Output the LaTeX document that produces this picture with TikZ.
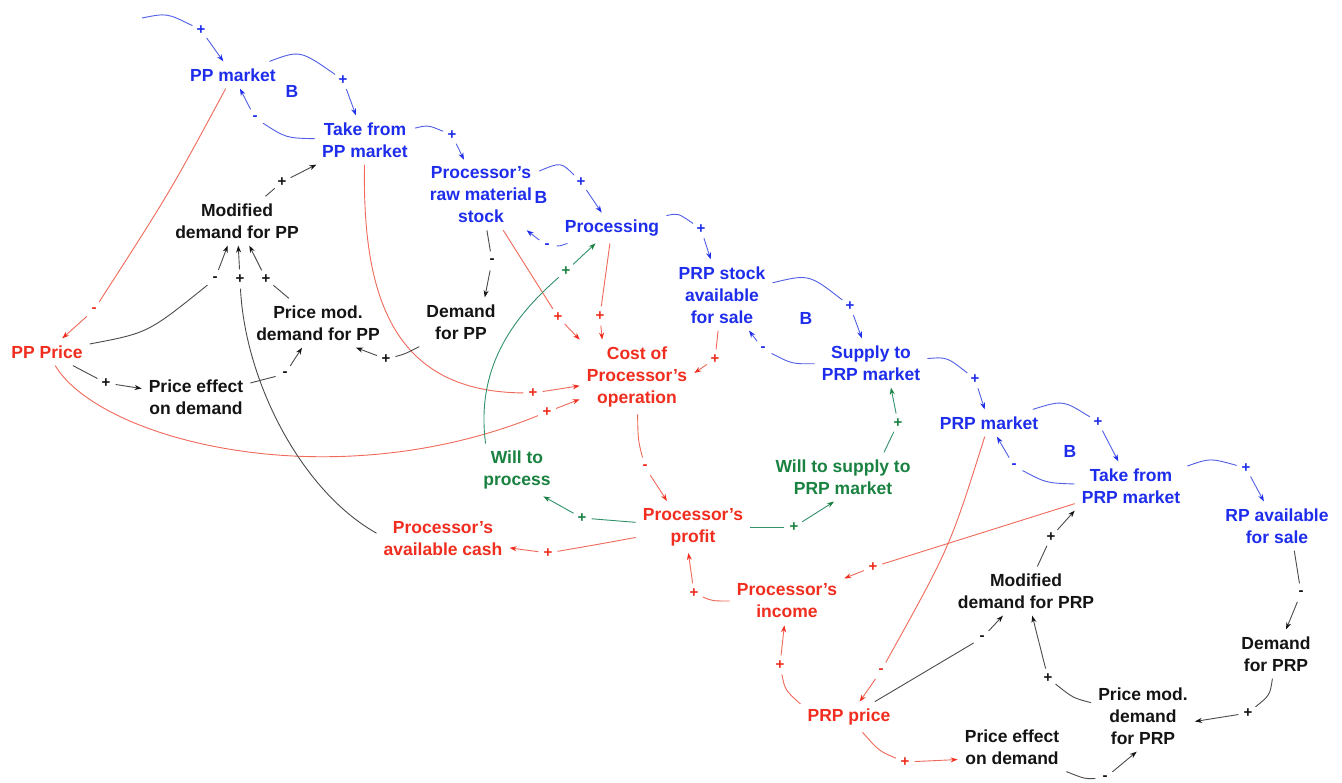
\documentclass[tikz,border=0pt]{standalone}
\usepackage{fontspec}
\setmainfont{Liberation Sans}
\usetikzlibrary{arrows.meta}
\definecolor{bluetxt}{RGB}{30,45,235}
\definecolor{blueln}{RGB}{80,95,230}
\definecolor{redtxt}{RGB}{240,45,30}
\definecolor{redln}{RGB}{240,105,90}
\definecolor{greentxt}{RGB}{25,130,65}
\definecolor{greenln}{RGB}{50,145,105}
\definecolor{blacktxt}{RGB}{20,20,20}
\definecolor{grayln}{RGB}{75,75,75}
\begin{document}
\begin{tikzpicture}[x=1pt,y=-1pt,
  lbl/.style={align=center, inner sep=7pt, font=\fontsize{17.5}{22}\selectfont\bfseries},
  bvar/.style={lbl, text=bluetxt},
  rvar/.style={lbl, text=redtxt},
  gvar/.style={lbl, text=greentxt},
  kvar/.style={lbl, text=blacktxt},
  loopB/.style={inner sep=1pt, text=bluetxt, font=\fontsize{17.5}{22}\selectfont\bfseries},
  sgn/.style={circle, inner sep=0pt, minimum size=19pt, font=\fontsize{15}{15}\selectfont\bfseries},
  bsg/.style={sgn, text=bluetxt},
  rsg/.style={sgn, text=redtxt},
  gsg/.style={sgn, text=greentxt},
  ksg/.style={sgn, text=blacktxt},
  bln/.style={draw=blueln, line width=0.9pt},
  rln/.style={draw=redln, line width=0.9pt},
  gln/.style={draw=greenln, line width=0.9pt},
  kln/.style={draw=grayln, line width=0.9pt},
  barr/.style={bln, -{Stealth[length=7pt,width=5pt,color=bluetxt]}},
  rarr/.style={rln, -{Stealth[length=7pt,width=5pt,color=redtxt]}},
  garr/.style={gln, -{Stealth[length=7pt,width=5pt,color=greentxt]}},
  karr/.style={kln, -{Stealth[length=7pt,width=5pt,color=blacktxt]}},
]
\fill[white] (0,0) rectangle (1342,783);
\useasboundingbox (0,0) rectangle (1342,783);

% ---------- variables ----------
\node[bvar] (ppm)  at (233,75)   {PP market};
\node[bvar] (tpp)  at (365,140)  {Take from\\PP market};
\node[bvar] (rms)  at (481,195)  {Processor’s\\raw material\\stock};
\node[bvar] (proc) at (612,228)  {Processing};
\node[bvar] (prps) at (722,295)  {PRP stock\\available\\for sale};
\node[bvar] (sup)  at (871,363)  {Supply to\\PRP market};
\node[bvar] (prpm) at (989,423)  {PRP market};
\node[bvar] (tprp) at (1131,486) {Take from\\PRP market};
\node[bvar] (rp)   at (1277,526) {RP available\\for sale};
\node[kvar] (dprp) at (1276,654) {Demand\\for PRP};
\node[kvar] (pmprp) at (1143,716) {Price mod.\\demand\\for PRP};
\node[kvar] (pedb) at (1012,747) {Price effect\\on demand};
\node[kvar] (mdprp) at (1026,591) {Modified\\demand for PRP};
\node[rvar] (prpp) at (849,717)  {PRP price};
\node[rvar] (inc)  at (787,601)  {Processor’s\\income};
\node[rvar] (prof) at (693,527)  {Processor’s\\profit};
\node[gvar] (wsup) at (843,477)  {Will to supply to\\PRP market};
\node[gvar] (wproc) at (517,470) {Will to\\process};
\node[rvar] (cash) at (443,539)  {Processor’s\\available cash};
\node[rvar] (cost) at (637,377)  {Cost of\\Processor’s\\operation};
\node[kvar] (dpp)  at (461,322)  {Demand\\for PP};
\node[kvar] (pmpp) at (318,323)  {Price mod.\\demand for PP};
\node[kvar] (pepp) at (196,397)  {Price effect\\on demand};
\node[rvar] (ppp)  at (47,352)   {PP Price};
\node[kvar] (mdpp) at (237,221)  {Modified\\demand for PP};

% balancing loop markers
\node[loopB] (lb1) at (292,91)   {B};
\node[loopB] (lb2) at (541,197)  {B};
\node[loopB] (lb3) at (806,318)  {B};
\node[loopB] (lb4) at (1070,451) {B};

% ---------- polarity signs ----------
\node[bsg] (s1)  at (201,30)   {+};
\node[bsg] (s2)  at (343,80)   {+};
\node[bsg] (s3)  at (255,118)  {-};
\node[bsg] (s4)  at (452,135)  {+};
\node[bsg] (s5)  at (581,182)  {+};
\node[bsg] (s6)  at (547,246)  {-};
\node[bsg] (s7)  at (701,229)  {+};
\node[bsg] (s8)  at (850,306)  {+};
\node[bsg] (s9)  at (763,349)  {-};
\node[bsg] (s10) at (975,379)  {+};
\node[bsg] (s11) at (1098,422) {+};
\node[bsg] (s12) at (1014,466) {-};
\node[bsg] (s13) at (1246,468) {+};
\node[ksg] (s14) at (1301,593) {-};
\node[ksg] (s15) at (1248,713) {+};
\node[ksg] (s16) at (1105,778) {-};
\node[ksg] (s17) at (1048,678) {+};
\node[ksg] (s18) at (982,638)  {-};
\node[ksg] (s19) at (1051,537) {+};
\node[rsg] (s20) at (780,665)  {+};
\node[rsg] (s21) at (905,762)  {+};
\node[rsg] (s22) at (881,671)  {-};
\node[rsg] (s23) at (873,567)  {+};
\node[rsg] (s24) at (694,593)  {+};
\node[rsg] (s25) at (645,467)  {-};
\node[rsg] (s26) at (548,553)  {+};
\node[rsg] (s27) at (94,310)   {-};
\node[rsg] (s28) at (547,412)  {+};
\node[rsg] (s29) at (533,393)  {+};
\node[rsg] (s30) at (558,317)  {+};
\node[rsg] (s31) at (600,316)  {+};
\node[rsg] (s32) at (715,359)  {+};
\node[gsg] (s33) at (566,271)  {+};
\node[gsg] (s34) at (582,518)  {+};
\node[gsg] (s35) at (794,527)  {+};
\node[gsg] (s36) at (898,423)  {+};
\node[ksg] (s37) at (282,182)  {+};
\node[ksg] (s38) at (215,279)  {-};
\node[ksg] (s39) at (240,279)  {+};
\node[ksg] (s40) at (266,279)  {+};
\node[ksg] (s41) at (106,383)  {+};
\node[ksg] (s42) at (285,374)  {-};
\node[ksg] (s43) at (386,359)  {+};
\node[ksg] (s44) at (492,261)  {-};

\coordinate (inflow) at (142,18);

% ---------- material chain (blue) ----------
\draw[bln] (inflow) .. controls (167,13) .. (s1);   \draw[barr] (s1) -- (ppm);
\draw[bln] (ppm) .. controls (300,50) .. (s2);      \draw[barr] (s2) -- (tpp);
\draw[bln] (tpp) .. controls (286,138) .. (s3);     \draw[barr] (s3) -- (ppm);
\draw[bln] (tpp) .. controls (428,125) .. (s4);     \draw[barr] (s4) -- (rms);
\draw[bln] (rms) .. controls (561,162) .. (s5);     \draw[barr] (s5) -- (proc);
\draw[bln] (proc) .. controls (560,246) .. (s6);    \draw[barr] (s6) -- (rms);
\draw[bln] (proc) .. controls (678,213) .. (s7);    \draw[barr] (s7) -- (prps);
\draw[bln] (prps) .. controls (809,274) .. (s8);    \draw[barr] (s8) -- (sup);
\draw[bln] (sup) .. controls (792,364) .. (s9);     \draw[barr] (s9) -- (prps);
\draw[bln] (sup) .. controls (947,357) .. (s10);    \draw[barr] (s10) -- (prpm);
\draw[bln] (prpm) .. controls (1063,400) .. (s11);  \draw[barr] (s11) -- (tprp);
\draw[bln] (tprp) .. controls (1046,483) .. (s12);  \draw[barr] (s12) -- (prpm);
\draw[bln] (tprp) .. controls (1210,458) .. (s13);  \draw[barr] (s13) -- (rp);

% ---------- PRP demand side (black) ----------
\draw[kln] (rp.-55) -- (s14);                       \draw[karr] (s14) -- (dprp);
\draw[kln] (dprp) .. controls (1270,695) .. (s15);  \draw[karr] (s15) -- (pmprp.-6);
\draw[kln] (pedb.south east) .. controls (1085,779) .. (s16); \draw[karr] (s16) -- (pmprp.-100);
\draw[kln] (pmprp) .. controls (1073,698) .. (s17); \draw[karr] (s17) -- (mdprp);
\draw[kln] (prpp) -- (s18);                         \draw[karr] (s18) -- (mdprp);
\draw[kln] (mdprp) -- (s19);                        \draw[karr] (s19) -- (tprp.south west);

% ---------- money (red) ----------
\draw[rln] (prpp.165) .. controls (785,690) .. (s20); \draw[rarr] (s20) -- (inc);
\draw[rln] (prpp) .. controls (879,751) .. (s21);   \draw[rarr] (s21) -- (pedb.193);
\draw[rln] (prpm) .. controls (950,547) .. (s22);   \draw[rarr] (s22) -- (prpp);
\draw[rln] (tprp) -- (s23);                         \draw[rarr] (s23) -- (inc);
\draw[rln] (inc) .. controls (712,601) .. (s24);    \draw[rarr] (s24) -- (prof.-100);
\draw[rln] (cost) .. controls (638,440) .. (s25);   \draw[rarr] (s25) -- (prof.135);
\draw[rln] (prof) .. controls (600,544) .. (s26);   \draw[rarr] (s26) -- (cash);
\draw[rln] (ppm) .. controls (170,192) .. (s27);    \draw[rarr] (s27) -- (ppp);
\draw[rln] (ppp) .. controls (100,440) and (330,500) .. (s28); \draw[rarr] (s28) -- (cost);
\draw[rln] (tpp) .. controls (362,300) and (395,392) .. (s29); \draw[rarr] (s29) -- (cost);
\draw[rln] (rms) -- (s30);                          \draw[rarr] (s30) -- (cost.north west);
\draw[rln] (proc) -- (s31);                         \draw[rarr] (s31) -- (cost.133);
\draw[rln] (prps) -- (s32);                         \draw[rarr] (s32) -- (cost.4);

% ---------- decisions (green) ----------
\draw[gln] (wproc.140) .. controls (476,370) and (510,320) .. (s33); \draw[garr] (s33) -- (proc);
\draw[gln] (prof) -- (s34);                         \draw[garr] (s34) -- (wproc.-45);
\draw[gln] (prof) -- (s35);                         \draw[garr] (s35) -- (wsup.-110);
\draw[gln] (wsup.31) -- (s36);                      \draw[garr] (s36) -- (sup.-51);

% ---------- PP demand side (black) ----------
\draw[kln] (mdpp) -- (s37);                         \draw[karr] (s37) -- (tpp);
\draw[kln] (ppp) .. controls (148,333) .. (s38);    \draw[karr] (s38) -- (mdpp);
\draw[kln] (cash.175) .. controls (300,490) and (245,380) .. (s39); \draw[karr] (s39) -- (mdpp);
\draw[kln] (pmpp) -- (s40);                         \draw[karr] (s40) -- (mdpp);
\draw[kln] (ppp) -- (s41);                          \draw[karr] (s41) -- (pepp);
\draw[kln] (pepp) -- (s42);                         \draw[karr] (s42) -- (pmpp);
\draw[kln] (dpp.south west) .. controls (405,354) .. (s43); \draw[karr] (s43) -- (pmpp.-33);
\draw[kln] (rms) -- (s44);                          \draw[karr] (s44) -- (dpp.46);
\end{tikzpicture}
\end{document}
